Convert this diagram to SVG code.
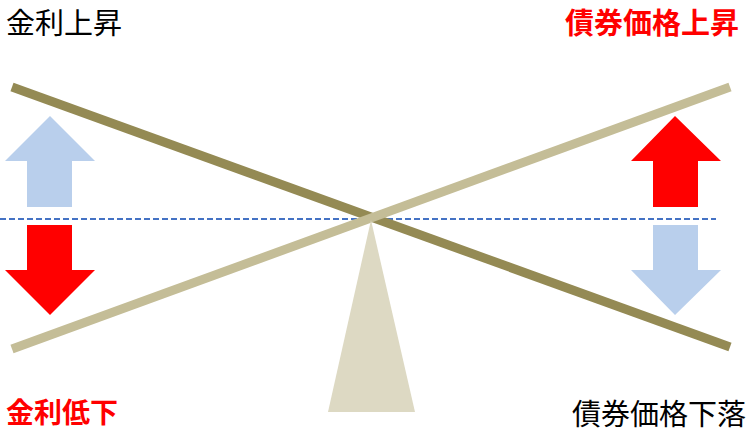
<svg xmlns="http://www.w3.org/2000/svg" width="749" height="432" viewBox="0 0 749 432">
<style>
.t{font-family:"Noto Sans CJK JP","Noto Sans",sans-serif;font-size:29px}
.b{font-weight:bold;fill:#FF0000}
.k{fill:#000000}
.red{fill:#FF0000}
.blue{fill:#B9CFEC}
</style>
<rect width="749" height="432" fill="#FFFFFF"/>
<g id="connectors">
<line id="dashed-axis" x1="0" y1="219" x2="716" y2="219" stroke="#4472C4" stroke-width="2" stroke-dasharray="6 3"/>
<line id="beam-dark" x1="12" y1="87" x2="730" y2="347" stroke="#948A54" stroke-width="9"/>
<line id="beam-light" x1="12" y1="349" x2="730" y2="87" stroke="#C4BD97" stroke-width="9"/>
</g>
<g id="fulcrum"><polygon points="371,220 415,412 328,412" fill="#DDD9C3"/></g>
<g id="arrow-left-up"><polygon class="blue" points="50,116 95,161 72,161 72,207 27,207 27,161 5,161"/></g>
<g id="arrow-left-down"><polygon class="red" points="27,225 72,225 72,270 95,270 50,315 5,270 27,270"/></g>
<g id="arrow-right-up"><polygon class="red" points="675,116 721,161 698,161 698,207 653,207 653,161 631,161"/></g>
<g id="arrow-right-down"><polygon class="blue" points="653,225 698,225 698,270 721,270 675,315 631,270 653,270"/></g>
<g id="label-rate-up"><text class="t k" x="6" y="34">金利上昇</text></g>
<g id="label-bond-up"><text class="t b" x="565" y="34">債券価格上昇</text></g>
<g id="label-rate-down"><text class="t b" x="6" y="423" style="font-size:28px">金利低下</text></g>
<g id="label-bond-down"><text class="t k" x="572" y="425">債券価格下落</text></g>
</svg>
